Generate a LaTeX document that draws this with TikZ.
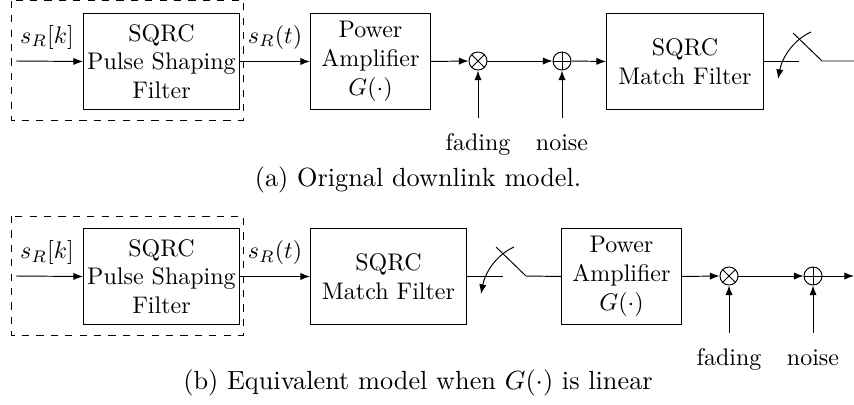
\documentclass[tikz,border=0pt]{standalone}
\usetikzlibrary{arrows.meta}
\begin{document}
\begin{tikzpicture}[x=0.4167pt,y=-0.4167pt,
blk/.style={draw,rectangle,anchor=north west,align=center,inner sep=0pt},
mix/.style={draw,circle,minimum size=7.5pt,inner sep=0pt},
sig/.style={-{Latex[length=4pt,width=3pt]},thin},
txt/.style={inner sep=0pt,anchor=base},
captxt/.style={inner sep=0pt,anchor=base,font=\fontsize{10.95}{13}\selectfont}]
\useasboundingbox(0,0)rectangle(854,404);
\node[blk,minimum width=65pt,minimum height=40pt](pA)at(83,13){SQRC\\Pulse Shaping\\Filter};
\node[blk,minimum width=50pt,minimum height=40pt](ampA)at(310,13){Power\\Amplifier\\$G(\cdot)$};
\node[blk,minimum width=65.4pt,minimum height=40pt](mA)at(606,13){SQRC\\Match Filter};
\node[mix](xA)at(478,61){};
\node[mix](oA)at(562,61){};
\draw(oA.north)--(oA.south)(oA.west)--(oA.east);
\draw(xA.45)--(xA.225)(xA.135)--(xA.315);
\draw[dashed,thin](11.5,0.8)rectangle(243.5,120);
\coordinate(inA)at(16,61);
\coordinate(faA)at(478,118);
\coordinate(noA)at(562,118);
\draw[sig](inA)--(pA.west);
\draw[sig](pA.east)--(ampA.west);
\draw[sig](ampA.east)--(xA.west);
\draw[sig](xA.east)--(oA.west);
\draw[sig](oA.east)--(mA.west);
\draw[sig](faA)--(xA.south);
\draw[sig](noA)--(oA.south);
\node[txt](kA)at(47,43){$s_R[k]$};
\node[txt](tA)at(275,43){$s_R(t)$};
\node[txt](lfA)at(478,150){fading};
\node[txt](lnA)at(562,150){noise};
\node[captxt](capA)at(418,186){(a) Orignal downlink model.};
\draw[thin](mA.east)--++(35,0);
\coordinate(swA)at(822,61);
\draw[thin](793,33)--(swA)--(854,61);
\draw[sig](811,32)..controls(793,40)and(782,58)..(778,79);
\node[blk,minimum width=65pt,minimum height=40pt](pB)at(83,228){SQRC\\Pulse Shaping\\Filter};
\node[blk,minimum width=65pt,minimum height=40pt](mB)at(310,228){SQRC\\Match Filter};
\node[blk,minimum width=50pt,minimum height=40pt](ampB)at(561,228){Power\\Amplifier\\$G(\cdot)$};
\node[mix](xB)at(729,276){};
\node[mix](oB)at(813,276){};
\draw(oB.north)--(oB.south)(oB.west)--(oB.east);
\draw(xB.45)--(xB.225)(xB.135)--(xB.315);
\draw[dashed,thin](11.5,216)rectangle(243.5,335);
\coordinate(inB)at(16,276);
\coordinate(faB)at(729,333);
\coordinate(noB)at(813,333);
\coordinate(outB)at(854,276);
\draw[sig](inB)--(pB.west);
\draw[sig](pB.east)--(mB.west);
\draw[sig](ampB.east)--(xB.west);
\draw[sig](xB.east)--(oB.west);
\draw[sig](oB.east)--(outB);
\draw[sig](faB)--(xB.south);
\draw[sig](noB)--(oB.south);
\node[txt](kB)at(47,258.5){$s_R[k]$};
\node[txt](tB)at(275,258.5){$s_R(t)$};
\node[txt](lfB)at(729,365){fading};
\node[txt](lnB)at(813,365){noise};
\node[captxt](capB)at(418,389){(b) Equivalent model when $G(\cdot)$ is linear};
\draw[thin](mB.east)--++(36,0);
\coordinate(swB)at(526,276);
\draw[thin](496,247)--(swB)--(ampB.west);
\draw[sig](514,247)..controls(496,255)and(485,273)..(481,294);
\end{tikzpicture}
\end{document}
